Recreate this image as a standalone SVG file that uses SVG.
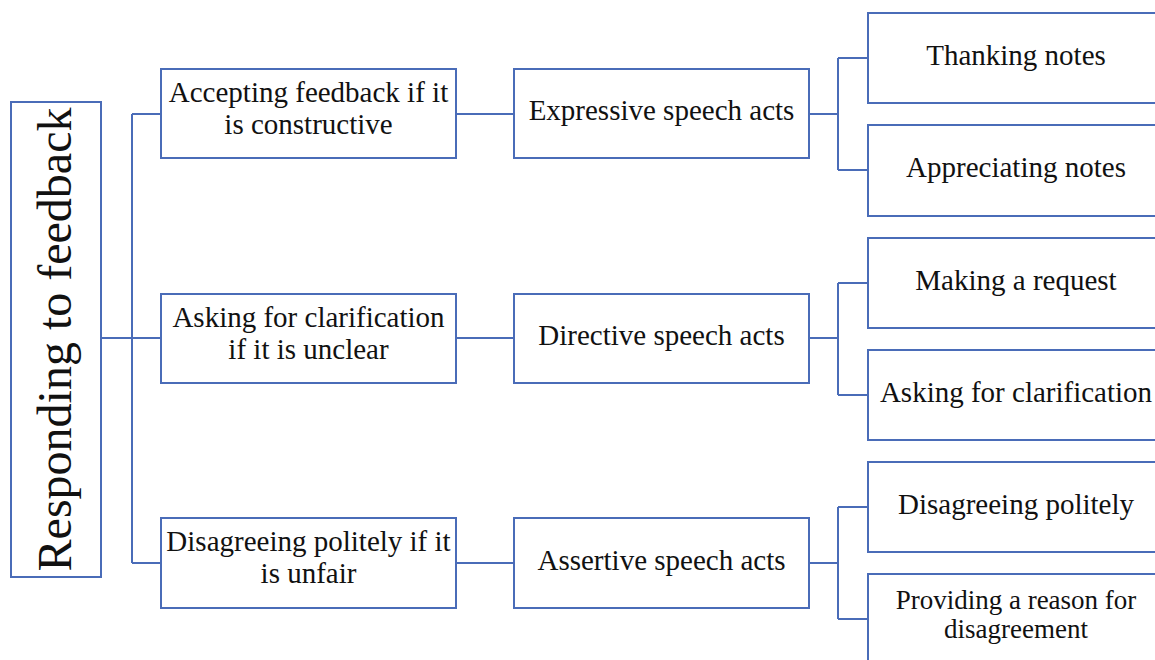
<svg xmlns="http://www.w3.org/2000/svg" width="1155" height="660" viewBox="0 0 1155 660">
  <style>
    .box { fill: #ffffff; stroke: #4a6cb8; stroke-width: 2; }
    .wire { fill: none; stroke: #4a6cb8; stroke-width: 2; }
    .t { font-family: 'Liberation Serif', 'Times New Roman', serif; font-size: 29px; fill: #111111; text-anchor: middle; }
    .tight { font-size: 27px; }
    .root { font-family: 'Liberation Serif', 'Times New Roman', serif; font-size: 48px; fill: #111111; text-anchor: middle; }
  </style>
  <rect width="1155" height="660" fill="#ffffff"/>

  <g id="connectors">
    <!-- root to first level -->
    <path class="wire" d="M101 338 H132 M132 114 V563 M132 114 H161 M132 338 H161 M132 563 H161"/>
    <!-- first level to speech acts -->
    <path class="wire" d="M456 114 H514 M456 338 H514 M456 563 H514"/>
    <!-- speech acts to leaves -->
    <path class="wire" d="M809 114 H838 M838 58 V170 M838 58 H868 M838 170 H868"/>
    <path class="wire" d="M809 338 H838 M838 283 V395 M838 283 H868 M838 395 H868"/>
    <path class="wire" d="M809 563 H838 M838 507 V619 M838 507 H868 M838 619 H868"/>
  </g>

  <g id="root">
    <rect class="box" x="11" y="102" width="90" height="475"/>
    <text class="root" transform="translate(71 339.5) rotate(-90)">Responding to feedback</text>
  </g>

  <g id="accept">
    <rect class="box" x="161" y="69" width="295" height="89"/>
    <text class="t"><tspan x="308.5" y="102">Accepting feedback if it</tspan><tspan x="308.5" y="134">is constructive</tspan></text>
  </g>
  <g id="clarify">
    <rect class="box" x="161" y="294" width="295" height="89"/>
    <text class="t"><tspan x="308.5" y="327">Asking for clarification</tspan><tspan x="308.5" y="359">if it is unclear</tspan></text>
  </g>
  <g id="disagree">
    <rect class="box" x="161" y="518" width="295" height="90"/>
    <text class="t"><tspan x="308.5" y="551">Disagreeing politely if it</tspan><tspan x="308.5" y="583">is unfair</tspan></text>
  </g>

  <g id="expressive">
    <rect class="box" x="514" y="69" width="295" height="89"/>
    <text class="t" x="661.5" y="120">Expressive speech acts</text>
  </g>
  <g id="directive">
    <rect class="box" x="514" y="294" width="295" height="89"/>
    <text class="t" x="661.5" y="345">Directive speech acts</text>
  </g>
  <g id="assertive">
    <rect class="box" x="514" y="518" width="295" height="90"/>
    <text class="t" x="661.5" y="570">Assertive speech acts</text>
  </g>

  <g id="thanking">
    <rect class="box" x="868" y="13" width="296" height="90"/>
    <text class="t" x="1016" y="65">Thanking notes</text>
  </g>
  <g id="appreciating">
    <rect class="box" x="868" y="125" width="296" height="91"/>
    <text class="t" x="1016" y="177">Appreciating notes</text>
  </g>
  <g id="request">
    <rect class="box" x="868" y="238" width="296" height="90"/>
    <text class="t" x="1016" y="290">Making a request</text>
  </g>
  <g id="clarification">
    <rect class="box" x="868" y="350" width="296" height="90"/>
    <text class="t" x="1016" y="402">Asking for clarification</text>
  </g>
  <g id="politely">
    <rect class="box" x="868" y="462" width="296" height="90"/>
    <text class="t" x="1016" y="514">Disagreeing politely</text>
  </g>
  <g id="reason">
    <rect class="box" x="868" y="574" width="296" height="100"/>
    <text class="t tight"><tspan x="1016" y="609">Providing a reason for</tspan><tspan x="1016" y="638">disagreement</tspan></text>
  </g>
</svg>
